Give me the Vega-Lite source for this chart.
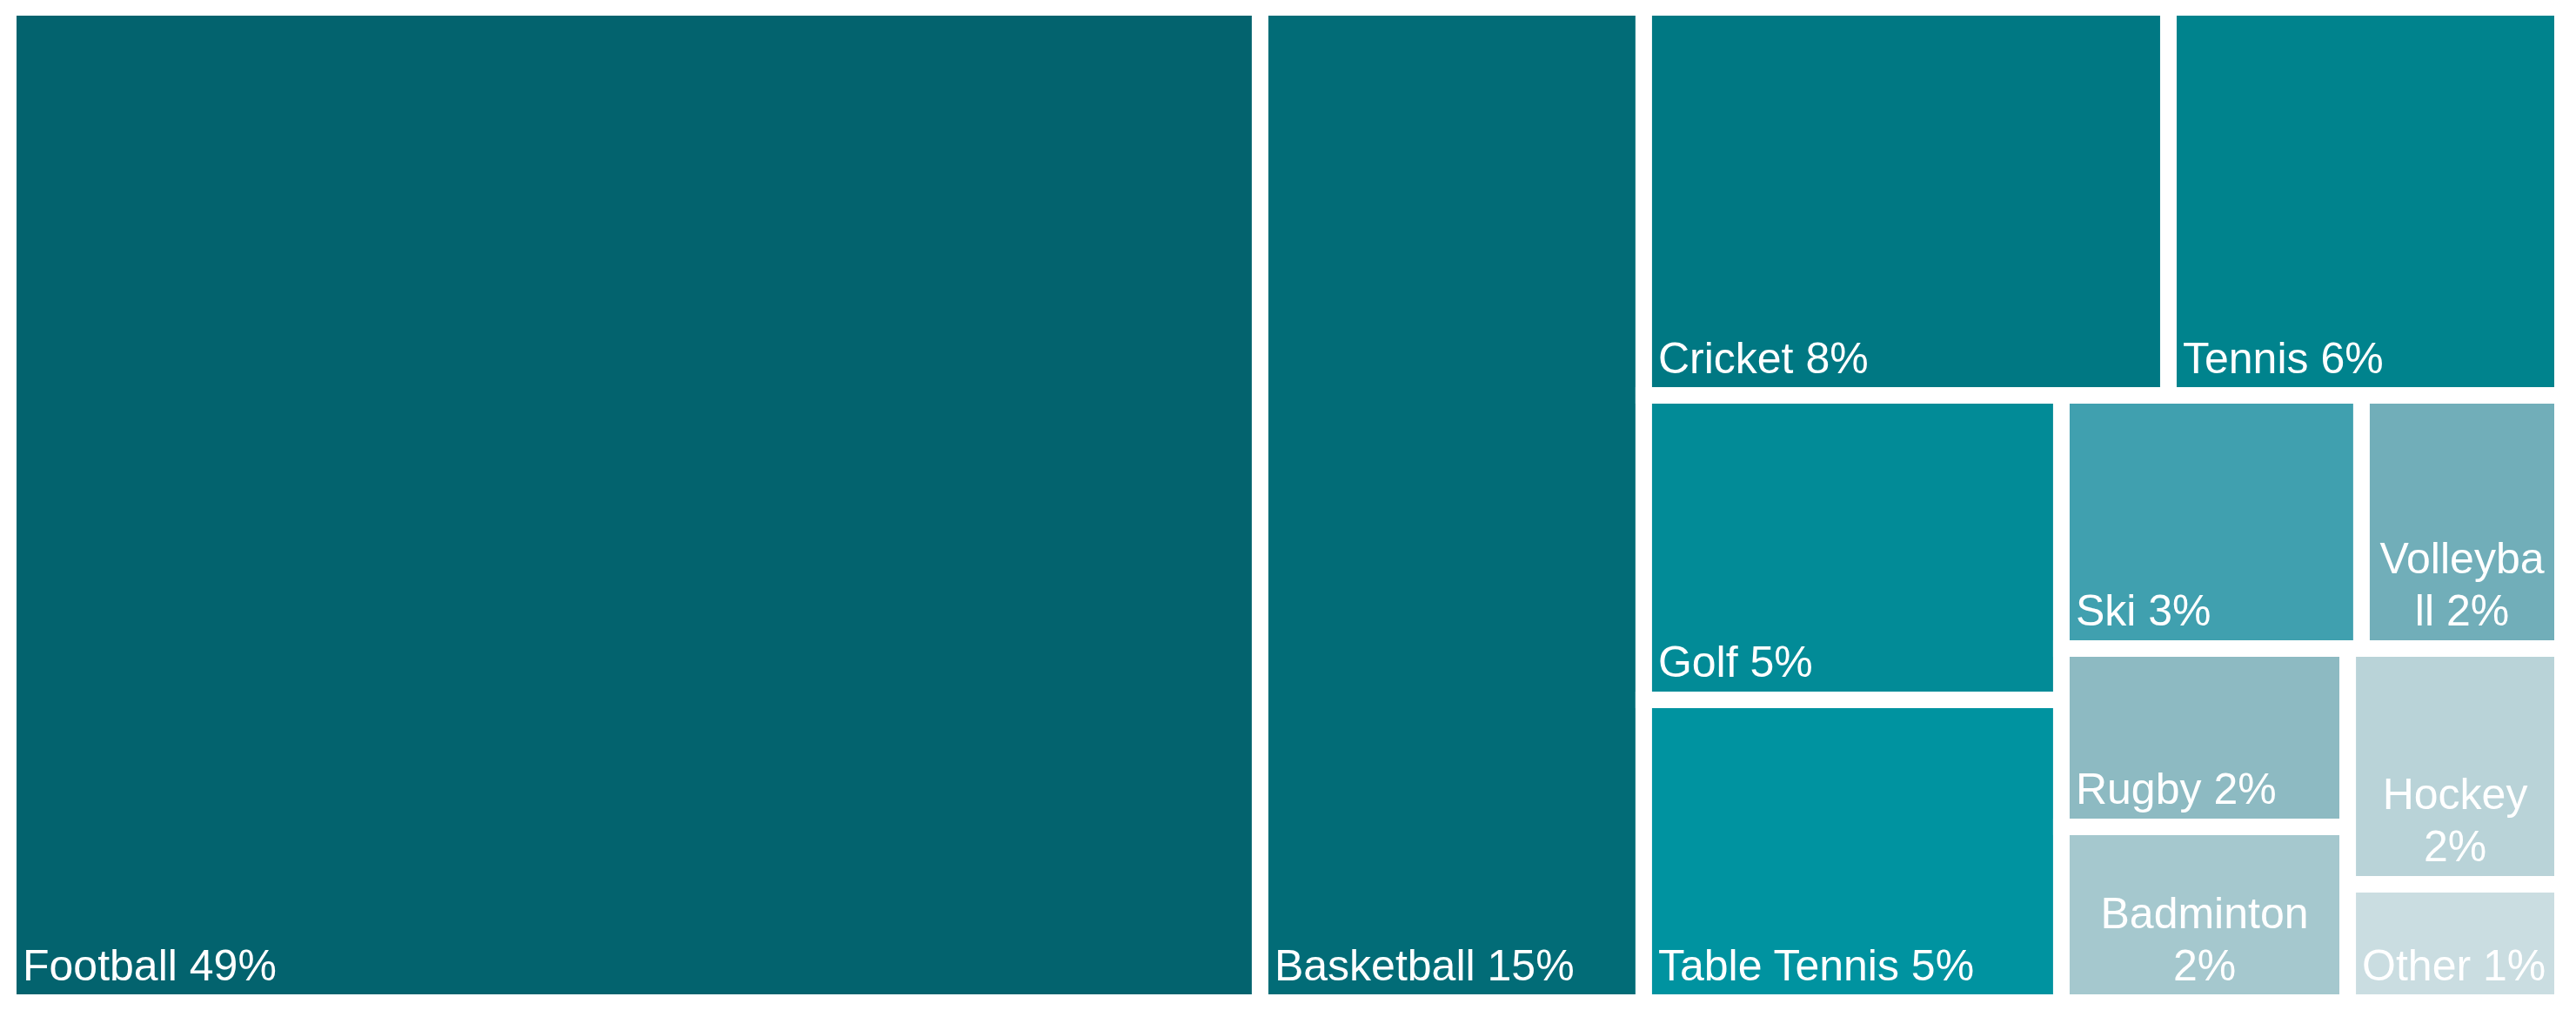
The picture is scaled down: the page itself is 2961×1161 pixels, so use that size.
{
  "$schema": "https://vega.github.io/schema/vega-lite/v6.json",
  "width": 2936,
  "height": 1144,
  "autosize": {"type": "none"},
  "padding": {"left": 9.5, "top": 8.5, "right": 15.5, "bottom": 8.5},
  "background": "white",
  "config": {"view": {"stroke": null}},
  "data": {
    "values": [
      {"sport": "Football", "share": 49, "label": "Football 49%", "x0": 0, "x1": 49.01, "y0": 0, "y1": 100},
      {"sport": "Basketball", "share": 15, "label": "Basketball 15%", "x0": 49.01, "x1": 64.03, "y0": 0, "y1": 100},
      {"sport": "Cricket", "share": 8, "label": "Cricket 8%", "x0": 64.03, "x1": 84.57, "y0": 0, "y1": 38.99},
      {"sport": "Tennis", "share": 6, "label": "Tennis 6%", "x0": 84.57, "x1": 100, "y0": 0, "y1": 38.99},
      {"sport": "Golf", "share": 5, "label": "Golf 5%", "x0": 64.03, "x1": 80.38, "y0": 38.99, "y1": 69.58},
      {"sport": "Table Tennis", "share": 5, "label": "Table Tennis 5%", "x0": 64.03, "x1": 80.38, "y0": 69.58, "y1": 100},
      {"sport": "Ski", "share": 3, "label": "Ski 3%", "x0": 80.38, "x1": 92.13, "y0": 38.99, "y1": 64.42},
      {"sport": "Volleyball", "share": 2, "label": ["Volleyba", "ll 2%"], "x0": 92.13, "x1": 100, "y0": 38.99, "y1": 64.42},
      {"sport": "Rugby", "share": 2, "label": "Rugby 2%", "x0": 80.38, "x1": 91.59, "y0": 64.42, "y1": 82.34},
      {"sport": "Badminton", "share": 2, "label": ["Badminton", "2%"], "x0": 80.38, "x1": 91.59, "y0": 82.34, "y1": 100},
      {"sport": "Hockey", "share": 2, "label": ["Hockey", "2%"], "x0": 91.59, "x1": 100, "y0": 64.42, "y1": 88.11},
      {"sport": "Other", "share": 1, "label": "Other 1%", "x0": 91.59, "x1": 100, "y0": 88.11, "y1": 100}
    ]
  },
  "layer": [
    {
      "mark": {"type": "rect", "stroke": "white", "strokeWidth": 19},
      "encoding": {
        "x": {"field": "x0", "type": "quantitative", "scale": {"domain": [0, 100], "nice": false, "zero": false}, "axis": null},
        "x2": {"field": "x1"},
        "y": {"field": "y0", "type": "quantitative", "scale": {"domain": [0, 100], "nice": false, "zero": false, "reverse": true}, "axis": null},
        "y2": {"field": "y1"},
        "color": {
          "field": "sport",
          "type": "nominal",
          "legend": null,
          "scale": {
            "domain": ["Football", "Basketball", "Cricket", "Tennis", "Golf", "Table Tennis", "Ski", "Volleyball", "Rugby", "Badminton", "Hockey", "Other"],
            "range": ["#03636E", "#026C77", "#007883", "#00838D", "#028B97", "#0093A0", "#40A0AF", "#71AEB9", "#8DBAC2", "#A5C8CE", "#B9D3D8", "#CADDE1"]
          }
        }
      }
    },
    {
      "transform": [{"filter": "!isArray(datum.label)"}],
      "mark": {"type": "text", "align": "left", "baseline": "bottom", "dx": 16.5, "dy": -16, "fontSize": 50, "font": "Liberation Sans, Arial, sans-serif", "color": "white", "lineHeight": 60},
      "encoding": {
        "x": {"field": "x0", "type": "quantitative", "scale": {"domain": [0, 100], "nice": false, "zero": false}, "axis": null},
        "y": {"field": "y1", "type": "quantitative", "scale": {"domain": [0, 100], "nice": false, "zero": false, "reverse": true}, "axis": null},
        "text": {"field": "label", "type": "nominal"}
      }
    },
    {
      "transform": [
        {"filter": "isArray(datum.label)"},
        {"fold": ["x0", "x1"], "as": ["edge", "xv"]},
        {"joinaggregate": [{"op": "mean", "field": "xv", "as": "xm"}], "groupby": ["sport"]},
        {"filter": "datum.edge === 'x0'"}
      ],
      "mark": {"type": "text", "align": "center", "baseline": "bottom", "dy": -76, "fontSize": 50, "font": "Liberation Sans, Arial, sans-serif", "color": "white", "lineHeight": 60},
      "encoding": {
        "x": {"field": "xm", "type": "quantitative", "scale": {"domain": [0, 100], "nice": false, "zero": false}, "axis": null},
        "y": {"field": "y1", "type": "quantitative", "scale": {"domain": [0, 100], "nice": false, "zero": false, "reverse": true}, "axis": null},
        "text": {"field": "label", "type": "nominal"}
      }
    }
  ]
}
